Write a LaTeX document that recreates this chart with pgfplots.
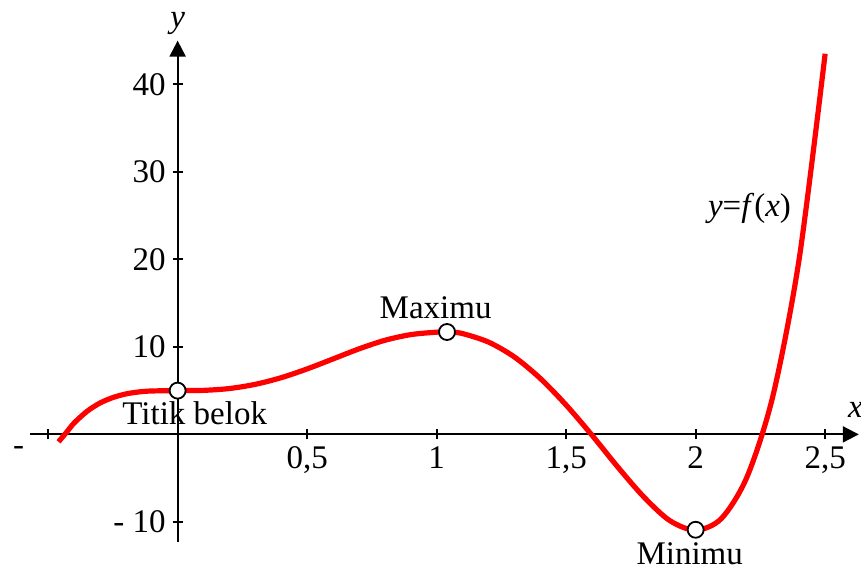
\documentclass[border=0pt]{standalone}
\usepackage{fontspec}
\setmainfont{Liberation Serif}
\usepackage{pgfplots}
\pgfplotsset{compat=1.18}
\usetikzlibrary{arrows.meta}

\begin{document}
\begin{tikzpicture}[font=\fontsize{16.5}{19}\selectfont]
\begin{axis}[
  scale only axis, width=414.4pt, height=250.7pt,
  xmin=-0.57, xmax=2.63, ymin=-12.3, ymax=45,
  enlargelimits=false, clip=false,
  axis lines=middle,
  axis line style={line width=1pt, -{Triangle[length=8pt,width=8pt]}},
  tick align=center, major tick length=5pt,
  major tick style={line width=1pt, black},
  xtick={-0.5,0.5,1,1.5,2,2.5},
  xticklabels={{\llap{-\hspace{12pt}}},{0,5},{1},{1,5},{2},{2,5}},
  ytick={-10,10,20,30,40},
  yticklabels={{- 10},{10},{20},{30},{40}},
  ticklabel style={font=\fontsize{16.5}{19}\selectfont},
]
% kurva y = f(x)
\addplot[red, line width=2.6pt, smooth] coordinates {
  (-0.46,-0.85) (-0.43,0.2) (-0.4,1.29) (-0.35,2.63) (-0.3,3.58)
  (-0.25,4.21) (-0.2,4.62) (-0.15,4.85) (-0.1,4.96) (0,5)
  (0.1,5.03) (0.2,5.24) (0.3,5.72) (0.4,6.48) (0.5,7.48) (0.6,8.62)
  (0.7,9.77) (0.8,10.75) (0.9,11.4) (1.0,11.68) (1.05,11.7) (1.1,11.52)
  (1.2,10.55) (1.3,8.85) (1.4,6.4) (1.5,3.35) (1.6,-0.1) (1.7,-3.75)
  (1.8,-7.15) (1.9,-9.85) (2.0,-10.95) (2.1,-9.6) (2.2,-4.75)
  (2.3,4.6) (2.4,20.1) (2.5,43.5)
};
% titik stasioner
\addplot[only marks, mark=*, mark size=4pt,
  mark options={fill=white, draw=black, line width=0.9pt}]
  coordinates {(0,5) (1.04,11.7) (2.0,-10.9)};

\node at (axis cs:0.066,2.4) {Titik belok};
\node at (axis cs:0.996,14.5) {Maximu};
\node at (axis cs:1.977,-13.6) {Minimu};
\node at (axis cs:2.208,25.8) {\textit{y}=\textit{f}(\textit{x})};
\node[anchor=south west, inner sep=0pt] at (axis cs:2.587,1.9) {\textit{x}};
\node[anchor=south, inner sep=2pt] at (axis cs:0,45.2) {\textit{y}};
\end{axis}
\pgfresetboundingbox
\path (-15pt,-14pt) rectangle (415.5pt,271pt);
\end{tikzpicture}
\end{document}
